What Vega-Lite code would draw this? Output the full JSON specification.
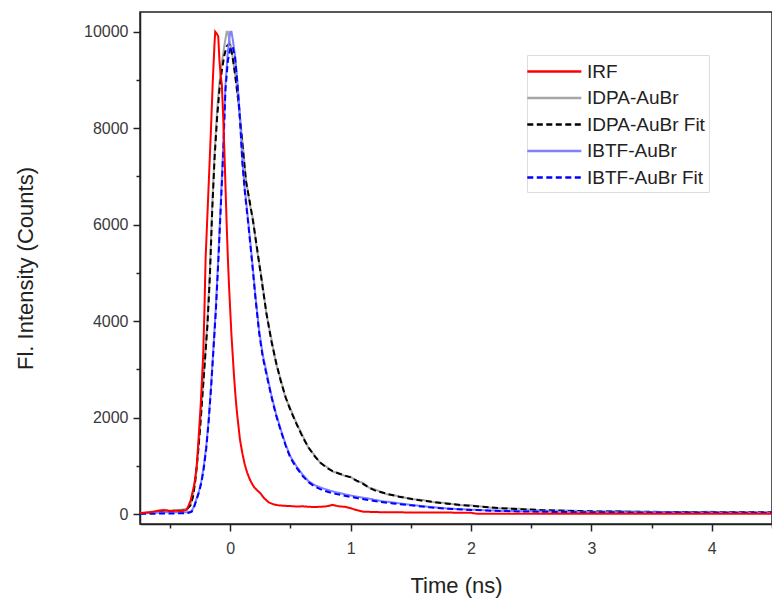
{
  "$schema": "https://vega.github.io/schema/vega-lite/v6.json",
  "width": 632,
  "height": 512,
  "autosize": "none",
  "padding": {"left": 140, "top": 12, "right": 0, "bottom": 79},
  "background": "white",
  "config": {
    "view": {"stroke": "#222", "strokeWidth": 1.5},
    "font": "Liberation Sans",
    "axis": {"grid": false, "domainColor": "#222", "domainWidth": 1.5, "tickColor": "#222", "tickWidth": 1.5, "labelFont": "Liberation Sans", "titleFont": "Liberation Sans", "labelColor": "#3a3a3a", "titleColor": "#222", "labelFontSize": 16, "titleFontSize": 22, "titleFontWeight": "normal", "labelOverlap": false}
  },
  "datasets": {
    "curves": [
      {"s":"IDPA-AuBr","t":-0.75,"v":10},{"s":"IDPA-AuBr","t":-0.7,"v":30},{"s":"IDPA-AuBr","t":-0.65,"v":50},{"s":"IDPA-AuBr","t":-0.6,"v":60},{"s":"IDPA-AuBr","t":-0.55,"v":90},{"s":"IDPA-AuBr","t":-0.5,"v":70},{"s":"IDPA-AuBr","t":-0.45,"v":80},{"s":"IDPA-AuBr","t":-0.4,"v":90},{"s":"IDPA-AuBr","t":-0.36,"v":110},{"s":"IDPA-AuBr","t":-0.33,"v":200},{"s":"IDPA-AuBr","t":-0.31,"v":380},{"s":"IDPA-AuBr","t":-0.29,"v":720},{"s":"IDPA-AuBr","t":-0.27,"v":1250},{"s":"IDPA-AuBr","t":-0.25,"v":1850},{"s":"IDPA-AuBr","t":-0.23,"v":2550},{"s":"IDPA-AuBr","t":-0.21,"v":3250},{"s":"IDPA-AuBr","t":-0.19,"v":4000},{"s":"IDPA-AuBr","t":-0.17,"v":5000},{"s":"IDPA-AuBr","t":-0.15,"v":6400},{"s":"IDPA-AuBr","t":-0.13,"v":7500},{"s":"IDPA-AuBr","t":-0.11,"v":8350},{"s":"IDPA-AuBr","t":-0.09,"v":8950},{"s":"IDPA-AuBr","t":-0.07,"v":9350},{"s":"IDPA-AuBr","t":-0.05,"v":9700},{"s":"IDPA-AuBr","t":-0.03,"v":10000},{"s":"IDPA-AuBr","t":-0.02,"v":10000},{"s":"IDPA-AuBr","t":-0.01,"v":9850},{"s":"IDPA-AuBr","t":0.01,"v":9650},{"s":"IDPA-AuBr","t":0.03,"v":9300},{"s":"IDPA-AuBr","t":0.05,"v":8950},{"s":"IDPA-AuBr","t":0.07,"v":8450},{"s":"IDPA-AuBr","t":0.1,"v":7750},{"s":"IDPA-AuBr","t":0.13,"v":6950},{"s":"IDPA-AuBr","t":0.16,"v":6450},{"s":"IDPA-AuBr","t":0.19,"v":6100},{"s":"IDPA-AuBr","t":0.22,"v":5500},{"s":"IDPA-AuBr","t":0.26,"v":4900},{"s":"IDPA-AuBr","t":0.3,"v":4150},{"s":"IDPA-AuBr","t":0.34,"v":3650},{"s":"IDPA-AuBr","t":0.38,"v":3120},{"s":"IDPA-AuBr","t":0.42,"v":2780},{"s":"IDPA-AuBr","t":0.46,"v":2400},{"s":"IDPA-AuBr","t":0.5,"v":2180},{"s":"IDPA-AuBr","t":0.55,"v":1880},{"s":"IDPA-AuBr","t":0.6,"v":1630},{"s":"IDPA-AuBr","t":0.65,"v":1370},{"s":"IDPA-AuBr","t":0.7,"v":1220},{"s":"IDPA-AuBr","t":0.75,"v":1050},{"s":"IDPA-AuBr","t":0.8,"v":980},{"s":"IDPA-AuBr","t":0.85,"v":880},{"s":"IDPA-AuBr","t":0.9,"v":850},{"s":"IDPA-AuBr","t":0.95,"v":790},{"s":"IDPA-AuBr","t":1.0,"v":770},{"s":"IDPA-AuBr","t":1.05,"v":680},{"s":"IDPA-AuBr","t":1.1,"v":650},{"s":"IDPA-AuBr","t":1.15,"v":550},{"s":"IDPA-AuBr","t":1.2,"v":510},{"s":"IDPA-AuBr","t":1.3,"v":410},{"s":"IDPA-AuBr","t":1.4,"v":370},{"s":"IDPA-AuBr","t":1.5,"v":310},{"s":"IDPA-AuBr","t":1.6,"v":290},{"s":"IDPA-AuBr","t":1.7,"v":240},{"s":"IDPA-AuBr","t":1.8,"v":230},{"s":"IDPA-AuBr","t":1.9,"v":180},{"s":"IDPA-AuBr","t":2.0,"v":180},{"s":"IDPA-AuBr","t":2.2,"v":120},{"s":"IDPA-AuBr","t":2.4,"v":110},{"s":"IDPA-AuBr","t":2.6,"v":70},{"s":"IDPA-AuBr","t":2.8,"v":75},{"s":"IDPA-AuBr","t":3.0,"v":50},{"s":"IDPA-AuBr","t":3.2,"v":60},{"s":"IDPA-AuBr","t":3.5,"v":40},{"s":"IDPA-AuBr","t":4.0,"v":45},{"s":"IDPA-AuBr","t":4.5,"v":30},

      {"s":"IDPA-AuBr Fit","t":-0.75,"v":10},{"s":"IDPA-AuBr Fit","t":-0.6,"v":40},{"s":"IDPA-AuBr Fit","t":-0.5,"v":60},{"s":"IDPA-AuBr Fit","t":-0.45,"v":70},{"s":"IDPA-AuBr Fit","t":-0.4,"v":70},{"s":"IDPA-AuBr Fit","t":-0.36,"v":100},{"s":"IDPA-AuBr Fit","t":-0.33,"v":180},{"s":"IDPA-AuBr Fit","t":-0.31,"v":350},{"s":"IDPA-AuBr Fit","t":-0.29,"v":700},{"s":"IDPA-AuBr Fit","t":-0.27,"v":1200},{"s":"IDPA-AuBr Fit","t":-0.25,"v":1800},{"s":"IDPA-AuBr Fit","t":-0.23,"v":2500},{"s":"IDPA-AuBr Fit","t":-0.21,"v":3200},{"s":"IDPA-AuBr Fit","t":-0.19,"v":3900},{"s":"IDPA-AuBr Fit","t":-0.17,"v":4900},{"s":"IDPA-AuBr Fit","t":-0.15,"v":6300},{"s":"IDPA-AuBr Fit","t":-0.13,"v":7400},{"s":"IDPA-AuBr Fit","t":-0.11,"v":8200},{"s":"IDPA-AuBr Fit","t":-0.09,"v":8800},{"s":"IDPA-AuBr Fit","t":-0.07,"v":9200},{"s":"IDPA-AuBr Fit","t":-0.05,"v":9500},{"s":"IDPA-AuBr Fit","t":-0.03,"v":9700},{"s":"IDPA-AuBr Fit","t":-0.01,"v":9750},{"s":"IDPA-AuBr Fit","t":0.01,"v":9600},{"s":"IDPA-AuBr Fit","t":0.03,"v":9300},{"s":"IDPA-AuBr Fit","t":0.05,"v":8900},{"s":"IDPA-AuBr Fit","t":0.07,"v":8500},{"s":"IDPA-AuBr Fit","t":0.1,"v":7700},{"s":"IDPA-AuBr Fit","t":0.13,"v":6900},{"s":"IDPA-AuBr Fit","t":0.16,"v":6500},{"s":"IDPA-AuBr Fit","t":0.19,"v":6050},{"s":"IDPA-AuBr Fit","t":0.22,"v":5550},{"s":"IDPA-AuBr Fit","t":0.26,"v":4850},{"s":"IDPA-AuBr Fit","t":0.3,"v":4170},{"s":"IDPA-AuBr Fit","t":0.34,"v":3600},{"s":"IDPA-AuBr Fit","t":0.38,"v":3150},{"s":"IDPA-AuBr Fit","t":0.42,"v":2750},{"s":"IDPA-AuBr Fit","t":0.46,"v":2420},{"s":"IDPA-AuBr Fit","t":0.5,"v":2150},{"s":"IDPA-AuBr Fit","t":0.55,"v":1870},{"s":"IDPA-AuBr Fit","t":0.6,"v":1600},{"s":"IDPA-AuBr Fit","t":0.65,"v":1380},{"s":"IDPA-AuBr Fit","t":0.7,"v":1200},{"s":"IDPA-AuBr Fit","t":0.75,"v":1060},{"s":"IDPA-AuBr Fit","t":0.8,"v":960},{"s":"IDPA-AuBr Fit","t":0.85,"v":890},{"s":"IDPA-AuBr Fit","t":0.9,"v":840},{"s":"IDPA-AuBr Fit","t":0.95,"v":800},{"s":"IDPA-AuBr Fit","t":1.0,"v":760},{"s":"IDPA-AuBr Fit","t":1.05,"v":690},{"s":"IDPA-AuBr Fit","t":1.1,"v":630},{"s":"IDPA-AuBr Fit","t":1.15,"v":550},{"s":"IDPA-AuBr Fit","t":1.2,"v":490},{"s":"IDPA-AuBr Fit","t":1.3,"v":420},{"s":"IDPA-AuBr Fit","t":1.4,"v":360},{"s":"IDPA-AuBr Fit","t":1.5,"v":315},{"s":"IDPA-AuBr Fit","t":1.6,"v":275},{"s":"IDPA-AuBr Fit","t":1.7,"v":245},{"s":"IDPA-AuBr Fit","t":1.8,"v":215},{"s":"IDPA-AuBr Fit","t":1.9,"v":190},{"s":"IDPA-AuBr Fit","t":2.0,"v":170},{"s":"IDPA-AuBr Fit","t":2.2,"v":130},{"s":"IDPA-AuBr Fit","t":2.4,"v":100},{"s":"IDPA-AuBr Fit","t":2.6,"v":80},{"s":"IDPA-AuBr Fit","t":2.8,"v":65},{"s":"IDPA-AuBr Fit","t":3.0,"v":55},{"s":"IDPA-AuBr Fit","t":3.5,"v":45},{"s":"IDPA-AuBr Fit","t":4.0,"v":40},{"s":"IDPA-AuBr Fit","t":4.5,"v":35},

      {"s":"IBTF-AuBr","t":-0.75,"v":10},{"s":"IBTF-AuBr","t":-0.6,"v":30},{"s":"IBTF-AuBr","t":-0.5,"v":40},{"s":"IBTF-AuBr","t":-0.4,"v":30},{"s":"IBTF-AuBr","t":-0.35,"v":40},{"s":"IBTF-AuBr","t":-0.32,"v":60},{"s":"IBTF-AuBr","t":-0.3,"v":170},{"s":"IBTF-AuBr","t":-0.28,"v":320},{"s":"IBTF-AuBr","t":-0.26,"v":480},{"s":"IBTF-AuBr","t":-0.24,"v":680},{"s":"IBTF-AuBr","t":-0.22,"v":1000},{"s":"IBTF-AuBr","t":-0.2,"v":1400},{"s":"IBTF-AuBr","t":-0.18,"v":1950},{"s":"IBTF-AuBr","t":-0.16,"v":2650},{"s":"IBTF-AuBr","t":-0.14,"v":3450},{"s":"IBTF-AuBr","t":-0.12,"v":4300},{"s":"IBTF-AuBr","t":-0.1,"v":5300},{"s":"IBTF-AuBr","t":-0.08,"v":6400},{"s":"IBTF-AuBr","t":-0.06,"v":7550},{"s":"IBTF-AuBr","t":-0.04,"v":8900},{"s":"IBTF-AuBr","t":-0.02,"v":9600},{"s":"IBTF-AuBr","t":0.0,"v":10000},{"s":"IBTF-AuBr","t":0.01,"v":10000},{"s":"IBTF-AuBr","t":0.02,"v":9850},{"s":"IBTF-AuBr","t":0.04,"v":9500},{"s":"IBTF-AuBr","t":0.06,"v":8950},{"s":"IBTF-AuBr","t":0.08,"v":8250},{"s":"IBTF-AuBr","t":0.1,"v":7350},{"s":"IBTF-AuBr","t":0.12,"v":6750},{"s":"IBTF-AuBr","t":0.15,"v":6050},{"s":"IBTF-AuBr","t":0.18,"v":5300},{"s":"IBTF-AuBr","t":0.21,"v":4500},{"s":"IBTF-AuBr","t":0.24,"v":3800},{"s":"IBTF-AuBr","t":0.27,"v":3300},{"s":"IBTF-AuBr","t":0.3,"v":2950},{"s":"IBTF-AuBr","t":0.34,"v":2480},{"s":"IBTF-AuBr","t":0.38,"v":2080},{"s":"IBTF-AuBr","t":0.42,"v":1750},{"s":"IBTF-AuBr","t":0.46,"v":1440},{"s":"IBTF-AuBr","t":0.5,"v":1190},{"s":"IBTF-AuBr","t":0.55,"v":990},{"s":"IBTF-AuBr","t":0.6,"v":820},{"s":"IBTF-AuBr","t":0.65,"v":680},{"s":"IBTF-AuBr","t":0.7,"v":600},{"s":"IBTF-AuBr","t":0.77,"v":530},{"s":"IBTF-AuBr","t":0.85,"v":470},{"s":"IBTF-AuBr","t":0.95,"v":410},{"s":"IBTF-AuBr","t":1.05,"v":360},{"s":"IBTF-AuBr","t":1.15,"v":320},{"s":"IBTF-AuBr","t":1.25,"v":270},{"s":"IBTF-AuBr","t":1.35,"v":240},{"s":"IBTF-AuBr","t":1.5,"v":190},{"s":"IBTF-AuBr","t":1.65,"v":150},{"s":"IBTF-AuBr","t":1.8,"v":115},{"s":"IBTF-AuBr","t":2.0,"v":90},{"s":"IBTF-AuBr","t":2.25,"v":65},{"s":"IBTF-AuBr","t":2.5,"v":55},{"s":"IBTF-AuBr","t":2.8,"v":45},{"s":"IBTF-AuBr","t":3.2,"v":35},{"s":"IBTF-AuBr","t":3.6,"v":35},{"s":"IBTF-AuBr","t":4.0,"v":30},{"s":"IBTF-AuBr","t":4.5,"v":25},

      {"s":"IBTF-AuBr Fit","t":-0.75,"v":5},{"s":"IBTF-AuBr Fit","t":-0.5,"v":10},{"s":"IBTF-AuBr Fit","t":-0.4,"v":15},{"s":"IBTF-AuBr Fit","t":-0.35,"v":20},{"s":"IBTF-AuBr Fit","t":-0.32,"v":50},{"s":"IBTF-AuBr Fit","t":-0.3,"v":150},{"s":"IBTF-AuBr Fit","t":-0.28,"v":300},{"s":"IBTF-AuBr Fit","t":-0.26,"v":450},{"s":"IBTF-AuBr Fit","t":-0.24,"v":650},{"s":"IBTF-AuBr Fit","t":-0.22,"v":950},{"s":"IBTF-AuBr Fit","t":-0.2,"v":1350},{"s":"IBTF-AuBr Fit","t":-0.18,"v":1900},{"s":"IBTF-AuBr Fit","t":-0.16,"v":2600},{"s":"IBTF-AuBr Fit","t":-0.14,"v":3400},{"s":"IBTF-AuBr Fit","t":-0.12,"v":4200},{"s":"IBTF-AuBr Fit","t":-0.1,"v":5200},{"s":"IBTF-AuBr Fit","t":-0.08,"v":6300},{"s":"IBTF-AuBr Fit","t":-0.06,"v":7400},{"s":"IBTF-AuBr Fit","t":-0.04,"v":8800},{"s":"IBTF-AuBr Fit","t":-0.02,"v":9400},{"s":"IBTF-AuBr Fit","t":0.0,"v":9650},{"s":"IBTF-AuBr Fit","t":0.02,"v":9700},{"s":"IBTF-AuBr Fit","t":0.04,"v":9450},{"s":"IBTF-AuBr Fit","t":0.06,"v":8900},{"s":"IBTF-AuBr Fit","t":0.08,"v":8200},{"s":"IBTF-AuBr Fit","t":0.1,"v":7300},{"s":"IBTF-AuBr Fit","t":0.12,"v":6700},{"s":"IBTF-AuBr Fit","t":0.15,"v":6000},{"s":"IBTF-AuBr Fit","t":0.18,"v":5250},{"s":"IBTF-AuBr Fit","t":0.21,"v":4450},{"s":"IBTF-AuBr Fit","t":0.24,"v":3750},{"s":"IBTF-AuBr Fit","t":0.27,"v":3250},{"s":"IBTF-AuBr Fit","t":0.3,"v":2900},{"s":"IBTF-AuBr Fit","t":0.34,"v":2450},{"s":"IBTF-AuBr Fit","t":0.38,"v":2050},{"s":"IBTF-AuBr Fit","t":0.42,"v":1720},{"s":"IBTF-AuBr Fit","t":0.46,"v":1420},{"s":"IBTF-AuBr Fit","t":0.5,"v":1160},{"s":"IBTF-AuBr Fit","t":0.55,"v":960},{"s":"IBTF-AuBr Fit","t":0.6,"v":790},{"s":"IBTF-AuBr Fit","t":0.65,"v":660},{"s":"IBTF-AuBr Fit","t":0.7,"v":570},{"s":"IBTF-AuBr Fit","t":0.77,"v":490},{"s":"IBTF-AuBr Fit","t":0.85,"v":430},{"s":"IBTF-AuBr Fit","t":0.95,"v":380},{"s":"IBTF-AuBr Fit","t":1.05,"v":330},{"s":"IBTF-AuBr Fit","t":1.15,"v":290},{"s":"IBTF-AuBr Fit","t":1.25,"v":250},{"s":"IBTF-AuBr Fit","t":1.35,"v":220},{"s":"IBTF-AuBr Fit","t":1.5,"v":180},{"s":"IBTF-AuBr Fit","t":1.65,"v":140},{"s":"IBTF-AuBr Fit","t":1.8,"v":110},{"s":"IBTF-AuBr Fit","t":2.0,"v":85},{"s":"IBTF-AuBr Fit","t":2.25,"v":62},{"s":"IBTF-AuBr Fit","t":2.5,"v":50},{"s":"IBTF-AuBr Fit","t":2.8,"v":40},{"s":"IBTF-AuBr Fit","t":3.2,"v":35},{"s":"IBTF-AuBr Fit","t":3.6,"v":30},{"s":"IBTF-AuBr Fit","t":4.0,"v":28},{"s":"IBTF-AuBr Fit","t":4.5,"v":25},

      {"s":"IRF","t":-0.75,"v":20},{"s":"IRF","t":-0.7,"v":30},{"s":"IRF","t":-0.65,"v":40},{"s":"IRF","t":-0.6,"v":70},{"s":"IRF","t":-0.55,"v":80},{"s":"IRF","t":-0.5,"v":60},{"s":"IRF","t":-0.45,"v":70},{"s":"IRF","t":-0.4,"v":60},{"s":"IRF","t":-0.36,"v":90},{"s":"IRF","t":-0.33,"v":280},{"s":"IRF","t":-0.3,"v":600},{"s":"IRF","t":-0.28,"v":950},{"s":"IRF","t":-0.265,"v":1500},{"s":"IRF","t":-0.245,"v":2300},{"s":"IRF","t":-0.225,"v":3300},{"s":"IRF","t":-0.215,"v":4200},{"s":"IRF","t":-0.205,"v":5300},{"s":"IRF","t":-0.19,"v":6200},{"s":"IRF","t":-0.175,"v":7100},{"s":"IRF","t":-0.16,"v":8000},{"s":"IRF","t":-0.145,"v":9000},{"s":"IRF","t":-0.13,"v":9800},{"s":"IRF","t":-0.125,"v":10000},{"s":"IRF","t":-0.11,"v":9950},{"s":"IRF","t":-0.1,"v":9900},{"s":"IRF","t":-0.09,"v":9400},{"s":"IRF","t":-0.08,"v":9100},{"s":"IRF","t":-0.07,"v":8900},{"s":"IRF","t":-0.06,"v":8300},{"s":"IRF","t":-0.05,"v":7600},{"s":"IRF","t":-0.04,"v":6800},{"s":"IRF","t":-0.03,"v":6000},{"s":"IRF","t":-0.02,"v":5300},{"s":"IRF","t":-0.01,"v":4700},{"s":"IRF","t":0.0,"v":4200},{"s":"IRF","t":0.01,"v":3700},{"s":"IRF","t":0.02,"v":3300},{"s":"IRF","t":0.03,"v":2900},{"s":"IRF","t":0.04,"v":2550},{"s":"IRF","t":0.05,"v":2250},{"s":"IRF","t":0.06,"v":2000},{"s":"IRF","t":0.08,"v":1550},{"s":"IRF","t":0.1,"v":1260},{"s":"IRF","t":0.12,"v":1030},{"s":"IRF","t":0.14,"v":860},{"s":"IRF","t":0.16,"v":730},{"s":"IRF","t":0.18,"v":630},{"s":"IRF","t":0.2,"v":550},{"s":"IRF","t":0.22,"v":500},{"s":"IRF","t":0.25,"v":430},{"s":"IRF","t":0.28,"v":330},{"s":"IRF","t":0.32,"v":240},{"s":"IRF","t":0.36,"v":200},{"s":"IRF","t":0.4,"v":180},{"s":"IRF","t":0.45,"v":170},{"s":"IRF","t":0.5,"v":165},{"s":"IRF","t":0.55,"v":155},{"s":"IRF","t":0.6,"v":160},{"s":"IRF","t":0.65,"v":150},{"s":"IRF","t":0.7,"v":145},{"s":"IRF","t":0.75,"v":150},{"s":"IRF","t":0.8,"v":160},{"s":"IRF","t":0.85,"v":190},{"s":"IRF","t":0.9,"v":160},{"s":"IRF","t":0.95,"v":150},{"s":"IRF","t":1.0,"v":120},{"s":"IRF","t":1.05,"v":80},{"s":"IRF","t":1.1,"v":50},{"s":"IRF","t":1.2,"v":40},{"s":"IRF","t":1.4,"v":35},{"s":"IRF","t":1.6,"v":30},{"s":"IRF","t":1.8,"v":30},{"s":"IRF","t":2.0,"v":25},{"s":"IRF","t":2.05,"v":5},{"s":"IRF","t":2.5,"v":5},{"s":"IRF","t":3.0,"v":5},{"s":"IRF","t":3.5,"v":5},{"s":"IRF","t":4.0,"v":5},{"s":"IRF","t":4.5,"v":5}
    ]
  },
  "layer": [
    {
      "mark": {"type": "rule", "color": "#333", "strokeWidth": 1.2},
      "encoding": {"y": {"datum": 0, "type": "quantitative", "scale": {"domain": [-207, 10408], "nice": false, "zero": false}}}
    },
    {
      "data": {"name": "curves"},
      "mark": {"type": "line", "strokeWidth": 2, "clip": true},
      "encoding": {
        "x": {
          "field": "t", "type": "quantitative",
          "scale": {"domain": [-0.75, 4.5], "nice": false, "zero": false},
          "axis": {
            "title": "Time (ns)",
            "values": [-0.5, 0, 0.5, 1, 1.5, 2, 2.5, 3, 3.5, 4, 4.5],
            "labelExpr": "datum.value % 1 === 0 ? format(datum.value, 'd') : ''",
            "tickSize": {"condition": {"test": "datum.value % 1 === 0", "value": 7}, "value": 4},
            "labelPadding": 9,
            "titlePadding": 19
          }
        },
        "y": {
          "field": "v", "type": "quantitative",
          "scale": {"domain": [-207, 10408], "nice": false, "zero": false},
          "axis": {
            "title": "Fl. Intensity (Counts)",
            "values": [0, 1000, 2000, 3000, 4000, 5000, 6000, 7000, 8000, 9000, 10000],
            "labelExpr": "datum.value % 2000 === 0 ? format(datum.value, 'd') : ''",
            "tickSize": {"condition": {"test": "datum.value % 2000 === 0", "value": 7}, "value": 4},
            "labelPadding": 5,
            "titlePadding": 46
          }
        },
        "color": {
          "field": "s", "type": "nominal", "title": null,
          "scale": {"domain": ["IRF", "IDPA-AuBr", "IDPA-AuBr Fit", "IBTF-AuBr", "IBTF-AuBr Fit"], "range": ["#ff0000", "#a6a6a6", "#000000", "#7f7fff", "#0000ff"]},
          "legend": {
            "orient": "none", "legendX": 387, "legendY": 43,
            "symbolType": "M-1.5,0H3.5", "symbolSize": 467, "symbolStrokeWidth": 2.5,
            "labelFont": "Liberation Sans", "labelFontSize": 19, "labelColor": "#222", "labelOffset": 31,
            "strokeColor": "#dddddd", "padding": 4, "rowPadding": 3.5
          }
        },
        "strokeDash": {
          "field": "s", "type": "nominal", "title": null,
          "scale": {"domain": ["IRF", "IDPA-AuBr", "IDPA-AuBr Fit", "IBTF-AuBr", "IBTF-AuBr Fit"], "range": [[1, 0], [1, 0], [6, 3.5], [1, 0], [6, 3.5]]}
        },
        "order": {"field": "t", "type": "quantitative"}
      }
    }
  ]
}
